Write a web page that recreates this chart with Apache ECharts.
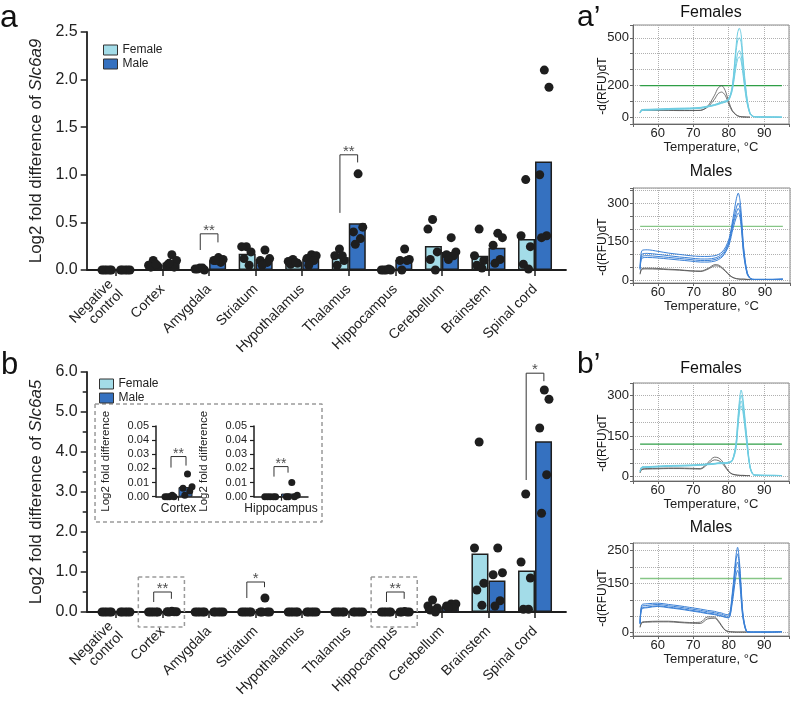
<!DOCTYPE html>
<html><head><meta charset="utf-8">
<script src="https://cdn.jsdelivr.net/npm/echarts@6/dist/echarts.min.js"></script>
<style>html,body{margin:0;padding:0;background:#fff}#c{width:794px;height:704px}</style>
</head><body><div id="c"></div>
<script>
// ---------------- DATA ----------------
const categories = ['Negative\ncontrol','Cortex','Amygdala','Striatum','Hypothalamus','Thalamus','Hippocampus','Cerebellum','Brainstem','Spinal cord'];

// Panel a: Slc6a9
const femaleBarA = [0, 0.056, 0.012, 0.17, 0.082, 0.134, 0.002, 0.252, 0.15, 0.325];
const maleBarA   = [0, 0.075, 0.10, 0.112, 0.116, 0.49, 0.106, 0.19, 0.233, 1.14];
const femaleDotsA = [
  [0,0,0,0,0],[0.10,0.05,0.04,0.03,0.06],[0.02,0.01,0.0,0.01,0.02],[0.245,0.245,0.19,0.12,0.05],
  [0.11,0.09,0.07,0.06,0.08],[0.22,0.15,0.10,0.05,0.15],[0,0,0,0,0.01],[0.53,0.43,0.19,0.11,0.0],
  [0.43,0.15,0.10,0.05,0.02],[0.95,0.36,0.245,0.06,0.01]];
const maleDotsA = [
  [0,0,0,0,0],[0.16,0.10,0.05,0.03,0.07],[0.13,0.11,0.10,0.08,0.10],[0.21,0.12,0.10,0.08,0.05],
  [0.16,0.15,0.12,0.10,0.05],[1.01,0.45,0.40,0.33,0.27],[0.22,0.11,0.10,0.10,0.0],[0.34,0.19,0.16,0.15,0.11],
  [0.385,0.34,0.26,0.11,0.07],[2.10,1.92,1.00,0.36,0.34]];
// [category, left leg bottom, right leg bottom, bracket top, label]
const sigA = [[2,0.21,0.29,0.38,'**'],[5,0.60,1.13,1.21,'**']];

// Inset (Slc6a5, Cortex and Hippocampus)
const insetCats = ['Cortex','Hippocampus'];
const insetFemaleBar = [0.0002, 0];
const insetMaleBar = [0.0068, 0.0022];
const insetFemaleDots = [[0,0,0,0,0.001],[0,0,0,0,0]];
const insetMaleDots = [[0.016,0.007,0.006,0.004,0.001],[0.010,0.001,0,0,0]];
const insetSig = [[0,0.0206,0.022,0.0284,'**'],[0,0.0142,0.017,0.0213,'**']];

// Panel b: Slc6a5
const femaleBarB = [0, 0.0002, 0, 0, 0, 0, 0, 0.12, 1.46, 1.04];
const maleBarB   = [0, 0.0068, 0, 0.07, 0, 0, 0.0022, 0.15, 0.79, 4.27];
const femaleDotsB = [
  [0,0,0,0,0],insetFemaleDots[0],[0,0,0,0,0],[0,0,0,0,0],[0,0,0,0,0],[0,0,0,0,0],insetFemaleDots[1],
  [0.30,0.15,0.10,0.05,0.0],[4.25,1.60,0.72,0.55,0.17],[2.95,1.25,0.85,0.07,0.07]];
const maleDotsB = [
  [0,0,0,0,0],insetMaleDots[0],[0,0,0,0,0],[0.35,0,0,0,0],[0,0,0,0,0],[0,0,0,0,0],insetMaleDots[1],
  [0.20,0.20,0.15,0.10,0.10],[1.60,0.98,0.93,0.28,0.15],[5.55,5.32,4.60,3.43,2.47]];
const sigB = [[1,0.25,0.33,0.50,'**'],[3,0.35,0.62,0.75,'*'],[6,0.25,0.33,0.50,'**'],[9,3.30,5.77,5.97,'*']];

// Melt curves (temperature grid, -d(RFU)dT values)
const meltTemps = [55,55.5,57,60,63,66,69,72,74,76,77,78,79,80,81,82,82.5,83,83.5,84,85,86,87,88,90,92,95];
const aFemaleCurves = [
  [30,48,50,52,55,57,58,62,70,80,88,95,100,115,200,430,530,560,520,380,150,30,8,5,4,4,3],
  [28,46,48,50,53,55,56,60,68,78,85,92,98,110,190,400,480,500,470,350,140,28,7,5,4,4,3],
  [32,50,52,54,57,59,60,64,72,82,90,98,105,118,180,340,400,420,390,300,120,25,6,4,4,3,3],
  [30,44,46,48,50,52,54,58,66,76,82,90,96,108,170,310,365,380,355,275,110,22,5,4,3,3,2]];
const aFemaleNTC = [
  [35,48,48,47,47,46,45,45,70,140,185,200,170,100,45,20,12,8,6,5,4,3,null,null,null,null,null],
  [33,46,46,45,45,44,44,46,65,115,150,160,140,85,40,18,11,7,5,4,3,3,null,null,null,null,null]];
const aMaleCurves = [
  [50,115,118,112,105,100,95,92,92,95,100,110,130,165,240,320,340,310,230,130,30,5,2,2,2,2,3],
  [45,100,104,100,95,90,86,82,82,86,92,102,122,155,225,285,300,280,210,120,28,5,2,2,2,2,3],
  [42,92,95,92,88,84,80,76,76,80,86,95,115,150,215,265,280,262,195,110,25,4,2,2,2,2,3],
  [40,85,88,86,82,78,74,70,70,74,80,90,110,140,200,248,262,245,180,100,22,4,2,2,2,2,3]];
const aMaleNTC = [
  [25,45,46,45,42,40,36,35,45,60,58,48,35,20,10,5,4,3,3,3,2,2,null,null,null,null,null],
  [22,42,43,42,40,38,35,33,42,55,54,45,32,18,9,5,4,3,3,3,2,2,null,null,null,null,null]];
const bFemaleCurves = [
  [20,35,36,38,40,41,42,44,46,48,50,50,50,52,60,120,200,280,320,290,160,40,8,6,5,5,4],
  [22,36,37,39,41,42,43,45,47,49,51,52,52,54,62,115,190,265,300,275,150,38,7,6,5,5,4],
  [18,33,34,36,38,39,40,42,44,46,48,48,48,50,58,105,175,250,280,255,140,35,7,5,5,4,4],
  [20,34,35,37,39,40,41,43,45,47,49,50,50,52,58,100,165,235,262,240,130,32,6,5,4,4,4]];
const bFemaleNTC = [
  [15,28,30,31,32,32,31,30,50,72,70,60,40,20,10,7,6,5,5,5,4,4,null,null,null,null,null],
  [14,26,28,29,30,30,29,28,45,62,60,52,35,18,9,6,5,5,4,4,4,4,null,null,null,null,null]];
const bMaleCurves = [
  [30,85,88,90,86,82,77,72,68,65,62,60,56,55,120,230,260,220,140,60,5,2,2,2,2,2,3],
  [28,80,83,86,82,78,73,68,64,61,58,56,52,50,110,215,240,205,130,55,5,2,2,2,2,2,3],
  [26,75,78,82,78,74,69,64,60,57,54,52,48,46,100,195,215,185,115,50,4,2,2,2,2,2,3],
  [27,72,76,80,76,72,67,62,58,55,52,50,47,45,90,170,190,165,100,45,4,2,2,2,2,2,3]];
const bMaleNTC = [
  [18,32,34,35,35,33,31,32,48,48,38,22,8,4,3,2,2,2,2,2,2,2,null,null,null,null,null],
  [16,30,32,33,33,31,29,28,42,44,35,20,7,3,2,2,2,2,2,2,2,2,null,null,null,null,null]];
const meltThresholds = [200, 210, 120, 165];
const meltYTickLabels = [[0,200,500],[0,150,300],[0,150,300],[0,150,250]];
const meltTitles = ['Females','Males','Females','Males'];

// ---------------- STYLE / LAYOUT ----------------
const FONT = '"Liberation Sans", Arial, Helvetica, sans-serif';
const C_F = '#a3dce8', C_M = '#3571c0', INK = '#1e1e1e';
const FOFF = [-0.2,-0.3,-0.1,-0.25,-0.14];
const MOFF = [0.2,0.3,0.1,0.25,0.14];

function panelSeries(xc, xv, y, fBar, mBar, fDots, mDots, sig, o) {
  const s = [];
  s.push({type:'bar', name:'Female', xAxisIndex:xc, yAxisIndex:y, data:fBar, barWidth:o.barW, barGap:'0%',
    itemStyle:{color:C_F, borderColor:INK, borderWidth:o.bw}, z:2, silent:true});
  s.push({type:'bar', name:'Male', xAxisIndex:xc, yAxisIndex:y, data:mBar, barWidth:o.barW, barGap:'0%',
    itemStyle:{color:C_M, borderColor:INK, borderWidth:o.bw}, z:2, silent:true});
  const pts = [];
  fDots.forEach((arr,i)=>arr.forEach((v,k)=>pts.push([i+FOFF[k], v])));
  mDots.forEach((arr,i)=>arr.forEach((v,k)=>pts.push([i+MOFF[k], v])));
  s.push({type:'scatter', xAxisIndex:xv, yAxisIndex:y, data:pts, symbolSize:o.ds, itemStyle:{color:INK, opacity:1}, z:3, silent:true});
  sig.forEach(([c,l,r,t,lab]) => {
    s.push({type:'line', xAxisIndex:xv, yAxisIndex:y, data:[[c-o.br,l],[c-o.br,t],[c+o.br,t],[c+o.br,r]],
      symbol:'none', lineStyle:{color:'#333', width:1}, clip:false, z:4, silent:true});
    s.push({type:'scatter', xAxisIndex:xv, yAxisIndex:y, data:[[c,t]], symbolSize:1, itemStyle:{color:'rgba(0,0,0,0)'},
      label:{show:true, formatter:lab, position:'top', distance:0, offset:[0,o.so], fontSize:o.sf, color:'#222', fontFamily:FONT},
      clip:false, z:5, silent:true});
  });
  return s;
}
function boxSeries(xv, y, pts) {
  return {type:'line', xAxisIndex:xv, yAxisIndex:y, data:pts, symbol:'none', clip:false, silent:true, z:1,
    lineStyle:{color:'#9a9a9a', width:1.5, type:[4,3]}};
}

const grids = [
  {left:92.7, top:32, width:465.6, height:238},
  {left:87, top:32, width:479, height:238},
  {left:92.7, top:372, width:465.6, height:240},
  {left:87, top:372, width:479, height:240},
  {left:156, top:426, width:45, height:70.7},
  {left:254, top:426, width:54, height:70.7},
  {left:633, top:25, width:156, height:99, show:true, borderColor:'#8a8a8a', borderWidth:1},
  {left:633, top:188, width:157, height:95, show:true, borderColor:'#8a8a8a', borderWidth:1},
  {left:633, top:383, width:156, height:98, show:true, borderColor:'#8a8a8a', borderWidth:1},
  {left:633, top:543, width:156, height:93, show:true, borderColor:'#8a8a8a', borderWidth:1}
];
const axLine = {show:true, onZero:false, lineStyle:{color:INK, width:1.8}};
const tickS = {show:true, length:6, lineStyle:{color:INK, width:1.5}};

function catAxis(gi, data) {
  return {type:'category', gridIndex:gi, data:data, axisLine:{show:false, onZero:false},
    axisTick:{show:true, alignWithLabel:true, length:6, lineStyle:{color:INK, width:1.5}},
    axisLabel:{interval:0, rotate:45, fontSize:14, color:'#222', fontFamily:FONT, margin:17, lineHeight:14},
    splitLine:{show:false}};
}
function hiddenVal(gi, mn, mx) { return {type:'value', gridIndex:gi, min:mn, max:mx, show:false, axisLine:{onZero:false}}; }
function lineOnly(gi) {
  return {type:'value', gridIndex:gi, min:0, max:1, axisLine:axLine, axisTick:{show:false}, axisLabel:{show:false}, splitLine:{show:false}};
}
const xAxes = [
  catAxis(0, categories), hiddenVal(0,-0.5,9.5), lineOnly(1),
  catAxis(2, categories), hiddenVal(2,-0.5,9.5), lineOnly(3),
];
const insetX0 = {type:'category', gridIndex:4, data:[insetCats[0]], axisLine:{show:true, onZero:false, lineStyle:{color:INK, width:1.5}},
  axisTick:{show:true, alignWithLabel:true, length:4, lineStyle:{color:INK, width:1.2}},
  axisLabel:{fontSize:12, color:'#222', fontFamily:FONT, margin:6}};
const insetX1 = JSON.parse(JSON.stringify(insetX0)); insetX1.gridIndex = 5; insetX1.data = [insetCats[1]];
xAxes.push(insetX0, hiddenVal(4,-0.5,0.5), insetX1, hiddenVal(5,-0.5,0.5));
for (let k=0;k<4;k++) {
  xAxes.push({type:'value', gridIndex:6+k, min:53, max:97, splitNumber:4,
    axisLine:{show:true, onZero:false, lineStyle:{color:'#666', width:1}}, axisTick:{show:true, length:3, lineStyle:{color:'#666'}},
    axisLabel:{fontSize:13, color:'#222', fontFamily:FONT, margin:3, formatter:v => (v%10===0 ? String(v) : '')},
    splitLine:{show:true, lineStyle:{type:'dotted', color:'#b0b0b0'}},
    name:'Temperature, °C', nameLocation:'middle', nameGap:17, nameTextStyle:{fontSize:13, color:'#222', fontFamily:FONT}});
}

const mainYName = gene => ({
  name:'Log2 fold difference of {i|' + gene + '}', nameLocation:'middle', nameGap:42,
  nameTextStyle:{fontSize:17, color:'#222', fontFamily:FONT, rich:{i:{fontStyle:'italic', fontSize:17, fontFamily:FONT, color:'#222'}}}
});
const yAxes = [
  Object.assign({type:'value', gridIndex:0, min:0, max:2.5, interval:0.5, offset:6, axisLine:axLine, axisTick:tickS,
    axisLabel:{fontSize:16, color:'#222', fontFamily:FONT, margin:9, formatter:v=>v.toFixed(1)}, splitLine:{show:false}}, mainYName('Slc6a9')),
  {type:'value', gridIndex:1, show:false, axisLine:{onZero:false}},
  Object.assign({type:'value', gridIndex:2, min:0, max:6, interval:1, offset:6, axisLine:axLine, axisTick:tickS,
    minorTick:{show:true, splitNumber:2, length:4, lineStyle:{color:INK, width:1.5}}, minorSplitLine:{show:false},
    axisLabel:{fontSize:16, color:'#222', fontFamily:FONT, margin:9, formatter:v=>v.toFixed(1)}, splitLine:{show:false}}, mainYName('Slc6a5')),
  {type:'value', gridIndex:3, show:false, axisLine:{onZero:false}}
];
for (let k=0;k<2;k++) {
  yAxes.push({type:'value', gridIndex:4+k, min:0, max:0.05, interval:0.01,
    axisLine:{show:true, onZero:false, lineStyle:{color:INK, width:1.5}}, axisTick:{show:true, length:4, lineStyle:{color:INK, width:1.2}},
    axisLabel:{fontSize:11, color:'#222', fontFamily:FONT, margin:7, formatter:v=>v.toFixed(2)}, splitLine:{show:false},
    name:'Log2 fold difference', nameLocation:'middle', nameGap:44, nameTextStyle:{fontSize:11.5, color:'#222', fontFamily:FONT}});
}
const meltY = [[-40,580,6],[-12,360,7],[-16,346,7],[-10,273,6]];
meltY.forEach(([mn,mx,sn],k) => {
  yAxes.push({type:'value', gridIndex:6+k, min:mn, max:mx, splitNumber:sn,
    axisLine:{show:true, onZero:false, lineStyle:{color:'#666', width:1}}, axisTick:{show:true, length:3, lineStyle:{color:'#666'}},
    axisLabel:{fontSize:13, color:'#222', fontFamily:FONT, margin:4, formatter:v => (meltYTickLabels[k].indexOf(v)>=0 ? String(v) : '')},
    splitLine:{show:true, lineStyle:{type:'dotted', color:'#b0b0b0'}}});
});

// ---------------- SERIES ----------------
const mainOpt = {barW:17, bw:1.5, ds:9, br:0.19, so:5, sf:15};
let series = [];
series = series.concat(panelSeries(0,1,0,femaleBarA,maleBarA,femaleDotsA,maleDotsA,sigA,mainOpt));
series.push(boxSeries(4,2,[[0.48,0.875],[1.47,0.875],[1.47,-0.375],[0.48,-0.375],[0.48,0.875]]));
series.push(boxSeries(4,2,[[5.48,0.875],[6.47,0.875],[6.47,-0.375],[5.48,-0.375],[5.48,0.875]]));
series.push(boxSeries(4,2,[[-0.45,5.2],[4.425,5.2],[4.425,2.25],[-0.45,2.25],[-0.45,5.2]]));
series = series.concat(panelSeries(3,4,2,femaleBarB,maleBarB,femaleDotsB,maleDotsB,sigB,mainOpt));
series = series.concat(panelSeries(6,7,4,[insetFemaleBar[0]],[insetMaleBar[0]],[insetFemaleDots[0]],[insetMaleDots[0]],[insetSig[0]],
  {barW:14, bw:1, ds:7, br:0.167, so:5, sf:14}));
series = series.concat(panelSeries(8,9,5,[insetFemaleBar[1]],[insetMaleBar[1]],[insetFemaleDots[1]],[insetMaleDots[1]],[insetSig[1]],
  {barW:14, bw:1, ds:7, br:0.13, so:5, sf:14}));

const meltSets = [
  [aFemaleCurves, aFemaleNTC, '#6fcde2', '#2e9e46'],
  [aMaleCurves, aMaleNTC, '#3a80d6', '#86c686'],
  [bFemaleCurves, bFemaleNTC, '#6fcde2', '#2e9e46'],
  [bMaleCurves, bMaleNTC, '#3a80d6', '#86c686']];
meltSets.forEach(([curves, ntc, col, gcol], k) => {
  const mk = (arr, c, w) => ({type:'line', xAxisIndex:10+k, yAxisIndex:6+k, data:meltTemps.map((t,i)=>[t, arr[i]]),
    symbol:'none', smooth:0.3, connectNulls:false, lineStyle:{color:c, width:w}, silent:true, z:2});
  series.push({type:'line', xAxisIndex:10+k, yAxisIndex:6+k, data:[[55,meltThresholds[k]],[95,meltThresholds[k]]],
    symbol:'none', lineStyle:{color:gcol, width:1.3}, silent:true, z:1});
  ntc.forEach(a => series.push(mk(a, '#505050', 0.8)));
  curves.forEach(a => series.push(mk(a, col, 1)));
});

// ---------------- TEXT ----------------
const txt = (text, x, y, size, align, rot) => ({type:'text', x:x, y:y, rotation:rot||0,
  style:{text:text, font: size + 'px ' + FONT, fill:'#111', align:align||'left', verticalAlign:'middle'}});
const graphics = [
  txt('a', 0, 18, 32), txt('b', 1, 365, 31),
  txt('a\u2019', 577, 18, 30), txt('b\u2019', 577, 365, 30)
];
const meltTitleY = [13, 172, 369, 528];
meltTitles.forEach((t,k) => graphics.push(txt(t, 711, meltTitleY[k], 16, 'center')));
const meltNameY = [86, 247, 443, 598];
meltNameY.forEach(y => graphics.push(txt('-d(RFU)dT', 603, y, 12, 'center', Math.PI/2)));

const legendBase = {data:['Female','Male'], orient:'vertical', itemWidth:14, itemHeight:10, itemGap:2, icon:'rect', selectedMode:false,
  itemStyle:{borderColor:'#333', borderWidth:1}, textStyle:{fontSize:12, color:'#222', fontFamily:FONT}};

const chart = echarts.init(document.getElementById('c'), null, {renderer:'canvas'});
chart.setOption({
  animation:false,
  backgroundColor:'#fff',
  textStyle:{fontFamily:FONT},
  grid:grids, xAxis:xAxes, yAxis:yAxes,
  legend:[Object.assign({left:98, top:39}, legendBase), Object.assign({left:94, top:373}, legendBase)],
  graphic:graphics,
  series:series
});
</script></body></html>
